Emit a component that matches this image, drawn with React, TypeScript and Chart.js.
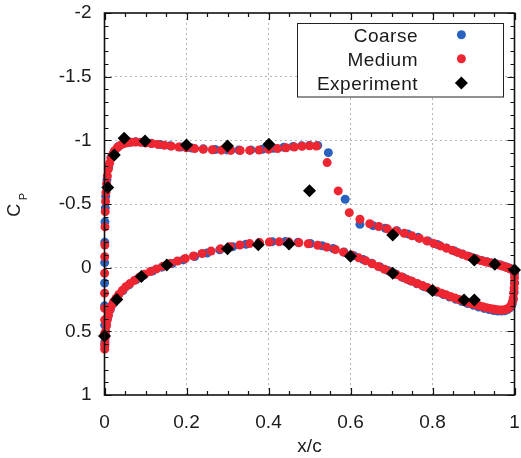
import React, { useEffect, useRef } from "react";
import { Chart, registerables } from "chart.js";

Chart.register(...registerables);

const FONT = '"Liberation Sans", Arial, Helvetica, sans-serif';

// ---------- labels / ticks ----------
const seriesLabels = ["Coarse", "Medium", "Experiment"];
const seriesColors = ["#2a62c0", "#ee2631", "#000000"];
const xMajorTicks = [0, 0.2, 0.4, 0.6, 0.8, 1];
const yMajorTicks = [-2, -1.5, -1, -0.5, 0, 0.5, 1];
const xMinorStep = 0.05;
const yMinorStep = 0.1;
const xTitle = "x/c";
const yTitle = "C";
const yTitleSub = "P";

// ---------- data: [x/c, Cp] ----------
const coarseUpper: [number, number][] = [
  [0.001, 0.58], [0.0005, 0.45], [0.0003, 0.3], [0.0003, 0.12], [0.0004, -0.04], [0.0007, -0.2],
  [0.0012, -0.36], [0.002, -0.47], [0.003, -0.56], [0.006, -0.69], [0.01, -0.79], [0.016, -0.865],
  [0.024, -0.915], [0.034, -0.952], [0.046, -0.975], [0.06, -0.985], [0.076, -0.988], [0.094, -0.984],
  [0.114, -0.977], [0.136, -0.967], [0.16, -0.957], [0.186, -0.947], [0.213, -0.94], [0.241, -0.933],
  [0.27, -0.928], [0.299, -0.925], [0.328, -0.924], [0.357, -0.925], [0.385, -0.93], [0.412, -0.937],
  [0.437, -0.945], [0.46, -0.952], [0.481, -0.957], [0.5, -0.96], [0.52, -0.96], [0.546, -0.903],
  [0.587, -0.537], [0.623, -0.34], [0.655, -0.33], [0.685, -0.31], [0.713, -0.29], [0.74, -0.265],
  [0.765, -0.238], [0.789, -0.21], [0.812, -0.182], [0.834, -0.155], [0.854, -0.13], [0.873, -0.107],
  [0.89, -0.087], [0.906, -0.07], [0.92, -0.057], [0.933, -0.046], [0.945, -0.037], [0.956, -0.029],
  [0.966, -0.021], [0.975, -0.012], [0.983, -0.003], [0.99, 0.007], [0.996, 0.015], [1.0, 0.022],
];

const coarseLower: [number, number][] = [
  [0.0008, 0.6], [0.002, 0.53], [0.004, 0.46], [0.008, 0.39], [0.014, 0.33], [0.022, 0.28],
  [0.032, 0.23], [0.045, 0.18], [0.06, 0.135], [0.077, 0.095], [0.096, 0.058], [0.117, 0.026],
  [0.14, -0.004], [0.165, -0.033], [0.192, -0.061], [0.22, -0.088], [0.25, -0.115], [0.281, -0.141],
  [0.313, -0.165], [0.345, -0.184], [0.377, -0.197], [0.409, -0.204], [0.441, -0.205], [0.472, -0.2],
  [0.502, -0.19], [0.531, -0.172], [0.558, -0.15], [0.584, -0.124], [0.608, -0.094], [0.631, -0.064],
  [0.652, -0.034], [0.672, -0.006], [0.691, 0.022], [0.71, 0.05], [0.728, 0.077], [0.745, 0.102],
  [0.762, 0.126], [0.779, 0.149], [0.795, 0.171], [0.811, 0.192], [0.827, 0.212], [0.842, 0.231],
  [0.857, 0.249], [0.872, 0.266], [0.886, 0.282], [0.9, 0.296], [0.913, 0.309], [0.926, 0.32],
  [0.938, 0.329], [0.949, 0.336], [0.959, 0.34], [0.968, 0.341], [0.976, 0.338], [0.983, 0.33],
  [0.989, 0.315], [0.994, 0.29], [0.997, 0.25], [0.999, 0.19], [1.0, 0.12], [1.0, 0.05],
];

const mediumUpper: [number, number][] = [
  [0.0008, 0.62], [0.0005, 0.515], [0.0003, 0.41], [0.0002, 0.32], [0.0002, 0.2], [0.0003, 0.044],
  [0.0005, -0.086], [0.0008, -0.178], [0.0012, -0.32], [0.0018, -0.44], [0.0025, -0.52], [0.0035, -0.59],
  [0.005, -0.66], [0.007, -0.72], [0.0095, -0.775], [0.0125, -0.82], [0.016, -0.86], [0.02, -0.89],
  [0.025, -0.918], [0.031, -0.942], [0.038, -0.96], [0.046, -0.973], [0.055, -0.981], [0.065, -0.985],
  [0.076, -0.986], [0.088, -0.984], [0.101, -0.98], [0.115, -0.975], [0.13, -0.968], [0.146, -0.961],
  [0.163, -0.954], [0.181, -0.947], [0.2, -0.941], [0.22, -0.935], [0.241, -0.93], [0.263, -0.926],
  [0.285, -0.923], [0.308, -0.921], [0.331, -0.92], [0.354, -0.921], [0.377, -0.924], [0.4, -0.929],
  [0.422, -0.935], [0.443, -0.942], [0.463, -0.948], [0.482, -0.953], [0.5, -0.957], [0.517, -0.955],
  [0.543, -0.825], [0.57, -0.603], [0.597, -0.432], [0.623, -0.38], [0.647, -0.345], [0.669, -0.323],
  [0.69, -0.305], [0.711, -0.288], [0.731, -0.27], [0.75, -0.25], [0.768, -0.23], [0.786, -0.21],
  [0.803, -0.19], [0.819, -0.171], [0.834, -0.153], [0.848, -0.136], [0.861, -0.12], [0.873, -0.105],
  [0.885, -0.091], [0.896, -0.079], [0.906, -0.068], [0.915, -0.059], [0.924, -0.051], [0.932, -0.044],
  [0.94, -0.038], [0.947, -0.033], [0.954, -0.028], [0.96, -0.023], [0.966, -0.018], [0.971, -0.013],
  [0.976, -0.008], [0.98, -0.003], [0.984, 0.002], [0.988, 0.007], [0.992, 0.012], [0.995, 0.016],
  [0.998, 0.02], [1.0, 0.025],
];

const mediumLower: [number, number][] = [
  [0.0005, 0.64], [0.001, 0.6], [0.002, 0.55], [0.003, 0.5], [0.005, 0.45], [0.007, 0.41],
  [0.01, 0.37], [0.013, 0.33], [0.017, 0.3], [0.022, 0.27], [0.028, 0.24], [0.035, 0.21],
  [0.043, 0.18], [0.052, 0.15], [0.062, 0.125], [0.073, 0.1], [0.085, 0.075], [0.098, 0.052],
  [0.112, 0.03], [0.127, 0.01], [0.143, -0.012], [0.16, -0.032], [0.178, -0.052], [0.197, -0.072],
  [0.217, -0.092], [0.238, -0.111], [0.26, -0.13], [0.283, -0.148], [0.306, -0.164], [0.33, -0.178],
  [0.354, -0.189], [0.378, -0.197], [0.402, -0.201], [0.426, -0.203], [0.45, -0.201], [0.474, -0.196],
  [0.497, -0.188], [0.52, -0.176], [0.542, -0.161], [0.563, -0.143], [0.583, -0.122], [0.602, -0.1],
  [0.62, -0.077], [0.637, -0.054], [0.653, -0.031], [0.668, -0.009], [0.683, 0.012], [0.697, 0.033],
  [0.711, 0.053], [0.724, 0.072], [0.737, 0.09], [0.75, 0.107], [0.763, 0.124], [0.775, 0.14],
  [0.787, 0.156], [0.799, 0.171], [0.811, 0.186], [0.822, 0.2], [0.833, 0.213], [0.844, 0.226],
  [0.855, 0.238], [0.865, 0.25], [0.875, 0.261], [0.885, 0.272], [0.895, 0.282], [0.905, 0.291],
  [0.914, 0.299], [0.923, 0.307], [0.932, 0.314], [0.94, 0.32], [0.948, 0.325], [0.955, 0.329],
  [0.962, 0.332], [0.968, 0.333], [0.974, 0.332], [0.979, 0.328], [0.984, 0.321], [0.988, 0.31],
  [0.992, 0.293], [0.995, 0.27], [0.997, 0.24], [0.998, 0.2], [0.999, 0.16], [1.0, 0.12],
  [1.0, 0.08], [1.0, 0.04],
];

const experimentUpper: [number, number][] = [
  [0.008, -0.63], [0.024, -0.885], [0.048, -1.016], [0.099, -0.995], [0.2, -0.964], [0.3, -0.956],
  [0.401, -0.97], [0.5, -0.605], [0.703, -0.257], [0.902, -0.06], [0.952, -0.027], [1.0, 0.018],
];

const experimentLower: [number, number][] = [
  [0.0, 0.537], [0.03, 0.25], [0.09, 0.07], [0.152, -0.02], [0.3, -0.148], [0.375, -0.18],
  [0.45, -0.186], [0.6, -0.09], [0.703, 0.044], [0.8, 0.18], [0.877, 0.254], [0.902, 0.254],
];

// ---------- helpers ----------
const toPoints = (...lists: [number, number][][]) =>
  lists.flat().map(([x, y]) => ({ x, y }));

const isMajor = (list: number[], v: number) => list.some((t) => Math.abs(t - v) < 1e-6);

const stepValues = (min: number, max: number, step: number) => {
  const out: number[] = [];
  const n = Math.round((max - min) / step);
  for (let i = 0; i <= n; i++) out.push(Math.round((min + i * step) * 1e6) / 1e6);
  return out;
};

const xMin = xMajorTicks[0];
const xMax = xMajorTicks[xMajorTicks.length - 1];
const yMin = yMajorTicks[0];
const yMax = yMajorTicks[yMajorTicks.length - 1];
const xAllTicks = stepValues(xMin, xMax, xMinorStep);
const yAllTicks = stepValues(yMin, yMax, yMinorStep);

const CANVAS_W = 521;
const CANVAS_H = 458;
const AREA_LEFT = 104.5;
const AREA_RIGHT = 515;
const AREA_TOP = 13;
const AREA_BOTTOM = 395;

const decorPlugin = {
  id: "decor",
  afterDatasetsDraw(chart: any) {
    const { ctx, chartArea: ca, scales } = chart;
    const xs = scales.x;
    const ys = scales.y;
    ctx.save();

    // tick marks (inward, mirrored)
    ctx.strokeStyle = "#111";
    ctx.lineWidth = 1.2;
    ctx.beginPath();
    xAllTicks.forEach((v) => {
      const len = isMajor(xMajorTicks, v) ? 7 : 4;
      const px = Math.round(xs.getPixelForValue(v)) + 0.5;
      ctx.moveTo(px, ca.bottom);
      ctx.lineTo(px, ca.bottom - len);
      ctx.moveTo(px, ca.top);
      ctx.lineTo(px, ca.top + len);
    });
    yAllTicks.forEach((v) => {
      const len = isMajor(yMajorTicks, v) ? 7 : 4;
      const py = Math.round(ys.getPixelForValue(v)) + 0.5;
      ctx.moveTo(ca.left, py);
      ctx.lineTo(ca.left + len, py);
      ctx.moveTo(ca.right, py);
      ctx.lineTo(ca.right - len, py);
    });
    ctx.stroke();

    // frame
    ctx.lineWidth = 1.6;
    ctx.strokeStyle = "#111";
    ctx.strokeRect(ca.left, ca.top, ca.right - ca.left, ca.bottom - ca.top);

    // axis titles
    ctx.fillStyle = "#1a1a1a";
    ctx.font = `19px ${FONT}`;
    ctx.textAlign = "center";
    ctx.textBaseline = "alphabetic";
    ctx.fillText(xTitle, (ca.left + ca.right) / 2, 452);

    ctx.save();
    ctx.translate(20, 216.7);
    ctx.rotate(-Math.PI / 2);
    ctx.textAlign = "left";
    ctx.font = `18px ${FONT}`;
    ctx.fillText(yTitle, 0, 0);
    const cw = ctx.measureText(yTitle).width;
    ctx.font = `11px ${FONT}`;
    ctx.fillText(yTitleSub, cw + 3.5, 7.3);
    ctx.restore();

    // legend box
    const bl = ca.right - 217.5;
    const bt = ca.top + 10;
    const bw = 206;
    const bh = 73.5;
    ctx.fillStyle = "#ffffff";
    ctx.fillRect(bl, bt, bw, bh);
    ctx.strokeStyle = "#222";
    ctx.lineWidth = 1;
    ctx.strokeRect(Math.round(bl) + 0.5, Math.round(bt) + 0.5, bw, bh);

    const datasets = chart.data.datasets;
    ctx.font = `19px ${FONT}`;
    (ctx as any).letterSpacing = "0.5px";
    ctx.textAlign = "right";
    ctx.textBaseline = "alphabetic";
    datasets.forEach((ds: any, i: number) => {
      const baseY = bt + 18.7 + i * 24.1;
      ctx.fillStyle = "#1a1a1a";
      ctx.fillText(ds.label, bl + 121, baseY);
      const mx = bl + 164.4;
      const my = baseY - 7;
      ctx.fillStyle = ds.backgroundColor;
      ctx.beginPath();
      if (ds.pointStyle === "rectRot") {
        const r = ds.pointRadius;
        ctx.moveTo(mx, my - r);
        ctx.lineTo(mx + r, my);
        ctx.lineTo(mx, my + r);
        ctx.lineTo(mx - r, my);
        ctx.closePath();
      } else {
        ctx.arc(mx, my, ds.pointRadius, 0, Math.PI * 2);
      }
      ctx.fill();
    });
    ctx.restore();
  },
};

export default function App() {
  const canvasRef = useRef<HTMLCanvasElement>(null);

  useEffect(() => {
    const canvas = canvasRef.current;
    if (!canvas) return;

    const gridColor = (list: number[], ends: number[]) => (c: any) => {
      const v = c.tick ? c.tick.value : NaN;
      if (!isMajor(list, v) || isMajor(ends, v)) return "rgba(0,0,0,0)";
      return "#b4b4b4";
    };

    const chart = new Chart(canvas, {
      type: "scatter",
      data: {
        datasets: [
          {
            label: seriesLabels[0],
            data: toPoints(coarseUpper, coarseLower),
            backgroundColor: seriesColors[0],
            borderWidth: 0,
            pointRadius: 4.5,
            pointStyle: "circle",
            clip: false,
            order: 3,
          } as any,
          {
            label: seriesLabels[1],
            data: toPoints(mediumUpper, mediumLower),
            backgroundColor: seriesColors[1],
            borderWidth: 0,
            pointRadius: 4.5,
            pointStyle: "circle",
            clip: false,
            order: 2,
          } as any,
          {
            label: seriesLabels[2],
            data: toPoints(experimentUpper, experimentLower),
            backgroundColor: seriesColors[2],
            borderWidth: 0,
            pointRadius: 6.5,
            pointStyle: "rectRot",
            clip: false,
            order: 1,
          } as any,
        ],
      },
      options: {
        animation: false,
        responsive: false,
        devicePixelRatio: 1,
        events: [],
        layout: {
          padding: { left: 0, right: CANVAS_W - AREA_RIGHT, top: AREA_TOP, bottom: 0 },
        },
        plugins: {
          legend: { display: false },
          tooltip: { enabled: false },
        },
        scales: {
          x: {
            type: "linear",
            position: "bottom",
            min: xMin,
            max: xMax,
            afterBuildTicks: (scale: any) => {
              scale.ticks = xAllTicks.map((value) => ({ value }));
            },
            afterFit: (scale: any) => {
              scale.height = CANVAS_H - AREA_BOTTOM;
              scale.paddingLeft = 0;
              scale.paddingRight = 0;
              scale.paddingTop = 0;
              scale.paddingBottom = 0;
            },
            ticks: {
              autoSkip: false,
              maxRotation: 0,
              padding: 16,
              color: "#1a1a1a",
              font: { family: FONT, size: 19 },
              callback: (v: any) => (isMajor(xMajorTicks, Number(v)) ? String(Number(v)) : ""),
            },
            grid: {
              drawTicks: false,
              color: gridColor(xMajorTicks, [xMin, xMax]),
              lineWidth: 1,
            },
            border: { display: false, dash: [2, 3] },
          },
          y: {
            type: "linear",
            position: "left",
            min: yMin,
            max: yMax,
            reverse: true,
            afterBuildTicks: (scale: any) => {
              scale.ticks = yAllTicks.map((value) => ({ value }));
            },
            afterFit: (scale: any) => {
              scale.width = AREA_LEFT;
              scale.paddingLeft = 0;
              scale.paddingRight = 0;
              scale.paddingTop = 0;
              scale.paddingBottom = 0;
            },
            ticks: {
              autoSkip: false,
              padding: 13,
              color: "#1a1a1a",
              font: { family: FONT, size: 19 },
              callback: (v: any) => (isMajor(yMajorTicks, Number(v)) ? String(Number(v)) : ""),
            },
            grid: {
              drawTicks: false,
              color: gridColor(yMajorTicks, [yMin, yMax]),
              lineWidth: 1,
            },
            border: { display: false, dash: [2, 3] },
          },
        },
      },
      plugins: [decorPlugin],
    } as any);

    return () => chart.destroy();
  }, []);

  return (
    <div
      style={{
        position: "absolute",
        left: 0,
        top: 0,
        width: CANVAS_W,
        height: CANVAS_H,
        background: "#ffffff",
      }}
    >
      <canvas
        ref={canvasRef}
        width={CANVAS_W}
        height={CANVAS_H}
        style={{ display: "block", width: CANVAS_W, height: CANVAS_H }}
      />
    </div>
  );
}
